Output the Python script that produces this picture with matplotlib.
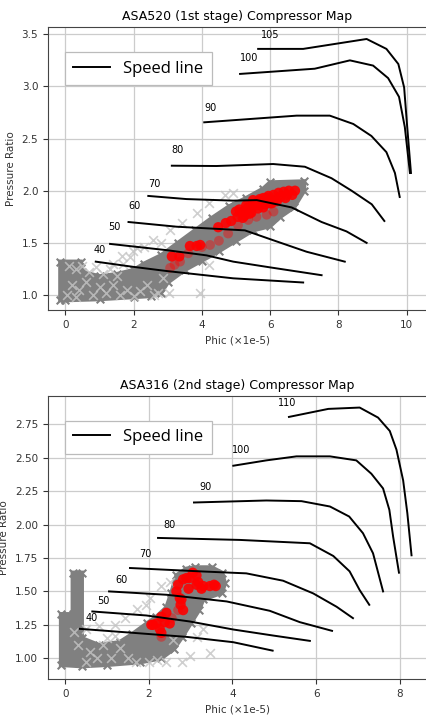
import matplotlib
matplotlib.use("Agg")
import matplotlib.pyplot as plt
import matplotlib.ticker as mticker
from matplotlib.lines import Line2D

# ---------------- ASA520 (1st stage) ----------------
top_title = "ASA520 (1st stage) Compressor Map"
top_speeds = ["105", "100", "90", "80", "70", "60", "50", "40"]
top_lines_x = [
    [5.65, 6.97, 8.83, 9.41, 9.76, 9.93, 10.02, 10.13],
    [5.12, 7.31, 8.34, 9.02, 9.46, 9.78, 9.95, 10.10],
    [4.07, 6.78, 7.75, 8.44, 8.97, 9.41, 9.66, 9.80],
    [3.12, 4.43, 6.09, 7.02, 7.80, 8.39, 8.98, 9.35],
    [2.43, 3.55, 4.92, 5.61, 6.63, 7.51, 8.24, 8.83],
    [1.85, 3.26, 5.26, 6.05, 7.07, 8.19],
    [1.31, 2.97, 4.14, 4.92, 6.00, 7.51],
    [0.89, 1.99, 2.97, 4.92, 6.97],
]
top_lines_y = [
    [3.36, 3.36, 3.455, 3.36, 3.215, 2.99, 2.61, 2.17],
    [3.12, 3.17, 3.25, 3.20, 3.08, 2.90, 2.61, 2.17],
    [2.656, 2.72, 2.72, 2.64, 2.525, 2.37, 2.17, 1.94],
    [2.24, 2.237, 2.256, 2.23, 2.12, 2.00, 1.87, 1.71],
    [1.95, 1.92, 1.905, 1.91, 1.84, 1.70, 1.61, 1.50],
    [1.70, 1.655, 1.62, 1.53, 1.415, 1.32],
    [1.49, 1.43, 1.38, 1.32, 1.265, 1.19],
    [1.32, 1.27, 1.23, 1.16, 1.12],
]
top_label_x = [5.73, 5.12, 4.07, 3.12, 2.43, 1.85, 1.26, 0.82]
top_label_y = [3.45, 3.22, 2.75, 2.34, 2.02, 1.81, 1.60, 1.38]

# dense grey operating-point cloud (outline)
top_cloud_x = [-0.15, -0.15, 0.45, 0.5, 1.0, 1.5, 2.0, 2.3, 2.8, 3.3, 3.8, 4.3, 4.8,
               5.3, 5.8, 6.0, 7.0, 7.0, 6.7, 6.3, 6.0, 5.5, 5.0, 4.5, 4.0, 3.5,
               3.0, 2.8, 2.5, 2.0, 1.0, 0.0]
top_cloud_y = [0.95, 1.32, 1.32, 1.22, 1.18, 1.20, 1.24, 1.30, 1.38, 1.50, 1.62,
               1.74, 1.85, 1.93, 2.02, 2.08, 2.09, 2.00, 1.84, 1.75, 1.66, 1.62,
               1.52, 1.42, 1.33, 1.24, 1.12, 1.02, 0.99, 0.98, 0.96, 0.95]
# sparse light operating points
top_light_x = [0.1, 0.3, 0.5, 0.7, 0.9, 1.1, 0.2, 0.4, 0.6, 0.8, 1.0, 1.2, 1.4,
               1.6, 1.8, 2.0, 1.3, 1.5, 0.05, 0.3, 2.2, 2.6, 2.7, 3.05, 3.95,
               2.87, 2.4, 1.7, 1.9, 1.41, 1.65, 1.99, 2.29, 2.58, 3.07, 3.41,
               3.85, 4.22, 4.68, 4.92, 4.22, 2.1, 2.8]
top_light_y = [1.28, 1.25, 1.28, 1.22, 1.27, 1.20, 1.10, 1.05, 1.12, 1.00, 1.08,
               1.02, 1.10, 1.00, 1.05, 0.99, 1.25, 1.18, 1.00, 0.98, 1.04, 1.00,
               1.02, 1.02, 1.02, 1.16, 1.10, 1.30, 1.36, 1.30, 1.37, 1.42, 1.46,
               1.53, 1.62, 1.69, 1.79, 1.88, 1.96, 1.98, 1.29, 1.45, 1.50]
# red highlighted points (solid strand)
top_red_x = [3.12, 3.34, 3.65, 3.85, 3.95, 4.48, 4.86, 4.7,
             5.05, 5.2, 5.35, 5.5, 5.65, 5.8, 5.95, 6.1, 6.25, 6.4, 6.55, 6.73,
             5.1, 5.3, 5.5, 5.7, 5.9, 6.1, 6.3, 6.5, 5.25, 5.45, 5.65, 5.85, 6.05,
             5.0, 5.2, 5.4, 5.6, 5.8, 6.0, 6.2, 6.45, 6.65]
top_red_y = [1.37, 1.37, 1.47, 1.47, 1.48, 1.65, 1.71, 1.69,
             1.75, 1.80, 1.84, 1.87, 1.90, 1.93, 1.95, 1.96, 1.98, 1.99, 2.00, 2.00,
             1.82, 1.86, 1.91, 1.92, 1.93, 1.91, 1.94, 1.96, 1.76, 1.79, 1.83, 1.87, 1.88,
             1.80, 1.74, 1.78, 1.86, 1.84, 1.88, 1.90, 1.93, 1.96]
# red highlighted points (faint strand)
top_faint_x = [3.07, 3.2, 3.36, 3.6, 4.0, 4.24, 4.5, 4.77, 5.06, 5.36, 5.6, 5.9, 6.1]
top_faint_y = [1.26, 1.29, 1.32, 1.40, 1.46, 1.48, 1.52, 1.59, 1.67, 1.72, 1.75, 1.77, 1.80]

# ---------------- ASA316 (2nd stage) ----------------
bot_title = "ASA316 (2nd stage) Compressor Map"
bot_speeds = ["110", "100", "90", "80", "70", "60", "50", "40"]
bot_lines_x = [
    [5.35, 6.29, 7.04, 7.48, 7.76, 7.92, 8.08, 8.18, 8.28],
    [4.02, 4.81, 5.53, 6.33, 6.96, 7.32, 7.60, 7.75, 7.84, 7.98],
    [3.08, 4.81, 5.65, 6.33, 6.79, 7.12, 7.36, 7.60],
    [2.22, 4.18, 5.85, 6.41, 6.80, 7.04, 7.27],
    [1.55, 3.22, 4.33, 5.21, 5.93, 6.49, 6.88],
    [1.05, 2.42, 3.86, 4.89, 5.61, 6.38],
    [0.65, 1.94, 2.98, 4.02, 4.97, 5.85],
    [0.35, 1.63, 2.90, 4.02, 4.96],
]
bot_lines_y = [
    [2.805, 2.865, 2.875, 2.80, 2.70, 2.56, 2.33, 2.085, 1.77],
    [2.44, 2.48, 2.51, 2.51, 2.48, 2.38, 2.27, 2.11, 1.91, 1.64],
    [2.165, 2.18, 2.175, 2.135, 2.06, 1.935, 1.785, 1.50],
    [1.90, 1.885, 1.86, 1.765, 1.65, 1.51, 1.40],
    [1.675, 1.65, 1.635, 1.58, 1.485, 1.385, 1.30],
    [1.50, 1.475, 1.425, 1.355, 1.27, 1.205],
    [1.35, 1.32, 1.275, 1.215, 1.17, 1.13],
    [1.22, 1.19, 1.16, 1.12, 1.057],
]
bot_label_x = [5.09, 3.98, 3.20, 2.34, 1.77, 1.21, 0.76, 0.49]
bot_label_y = [2.87, 2.52, 2.24, 1.96, 1.74, 1.55, 1.39, 1.26]

bot_cloud_x = [-0.1, -0.1, 0.18, 0.18, 0.40, 0.40, 0.8, 1.3, 1.6, 1.95, 2.18,
               2.42, 2.54, 2.66, 2.9, 3.1, 3.5, 3.75, 3.82, 3.75, 3.3, 3.2,
               3.0, 2.8, 2.6, 2.3, 1.8, 1.0, 0.4]
bot_cloud_y = [0.95, 1.33, 1.33, 1.64, 1.64, 1.15, 1.10, 1.12, 1.18, 1.26, 1.31,
               1.38, 1.49, 1.62, 1.67, 1.68, 1.68, 1.64, 1.56, 1.49, 1.44, 1.36,
               1.26, 1.16, 1.07, 1.00, 0.97, 0.95, 0.94]
bot_light_x = [0.5, 0.8, 1.19, 1.43, 1.71, 1.94, 2.02, 2.30, 2.50, 0.3, 0.6, 0.9,
               1.1, 1.3, 0.5, 0.75, 1.5, 1.7, 2.0, 2.42, 2.8, 2.98, 3.14, 3.46,
               2.58, 0.2, 1.0, 1.2, 2.2, 3.3]
bot_light_y = [1.22, 1.24, 1.25, 1.30, 1.37, 1.40, 1.45, 1.54, 1.57, 1.10, 1.05,
               1.10, 1.00, 1.08, 0.97, 1.00, 1.00, 0.97, 0.97, 0.975, 0.975,
               1.02, 1.16, 1.04, 1.14, 1.20, 1.15, 1.17, 0.99, 1.22]
bot_red_x = [3.14, 2.98, 2.82, 2.70, 2.66, 2.74, 2.76, 2.82, 3.14, 3.26, 3.46,
             3.56, 2.42, 2.30, 2.38, 2.18, 2.10, 2.26, 2.30, 2.50, 2.06, 2.78,
             2.90, 3.18, 3.30, 3.60, 3.05, 2.95]
bot_red_y = [1.62, 1.60, 1.59, 1.55, 1.50, 1.45, 1.40, 1.36, 1.55, 1.52, 1.54,
             1.55, 1.34, 1.31, 1.27, 1.26, 1.25, 1.22, 1.19, 1.26, 1.25, 1.44,
             1.60, 1.57, 1.54, 1.54, 1.64, 1.52]
bot_faint_x = [2.30, 2.55, 2.70]
bot_faint_y = [1.16, 1.30, 1.36]

GREY = "#808080"


def draw(ax, title, speeds, lx, ly, labx, laby, cx, cy, gx, gy, rx, ry, fx, fy):
    ax.fill(cx, cy, color=GREY, lw=3, ec=GREY, zorder=2)
    ax.scatter(cx, cy, marker="x", s=30, color=GREY, linewidths=1.5, zorder=2)
    ax.scatter(gx, gy, marker="x", s=40, color="#c4c4c4", alpha=0.8,
               linewidths=1.2, zorder=3)
    ax.scatter(fx, fy, marker="o", s=50, color="red", alpha=0.4,
               edgecolors="none", zorder=4)
    ax.scatter(rx, ry, marker="o", s=55, color="red", alpha=0.9,
               edgecolors="none", zorder=4)
    for xs, ys, sp, tx, ty in zip(lx, ly, speeds, labx, laby):
        ax.plot(xs, ys, color="black", lw=1.4, zorder=5)
        ax.text(tx, ty, sp, fontsize=7, ha="left", va="bottom", zorder=6)
    ax.set_title(title, fontsize=9, pad=5)
    ax.set_xlabel("Phic (×1e-5)", fontsize=7.5, color="#333333")
    ax.set_ylabel("Pressure Ratio", fontsize=7.5, color="#333333")
    ax.tick_params(labelsize=7.5, colors="#333333")
    ax.grid(True, color="#cccccc", lw=0.9)
    ax.set_axisbelow(True)
    for s in ax.spines.values():
        s.set_color("#444444")
    h = [Line2D([], [], color="black", lw=1.4)]
    leg = ax.legend(h, ["Speed line"], loc="upper left",
                    bbox_to_anchor=(0.023, 0.94), fancybox=False,
                    prop={"family": "Open Sans", "size": 12},
                    handlelength=2.2, borderpad=0.5, framealpha=1)
    leg.get_frame().set_edgecolor("#bbbbbb")
    leg.get_frame().set_linewidth(0.9)


fig = plt.figure(figsize=(4.27, 7.16), dpi=100)
ax1 = fig.add_axes([0.1124, 0.567, 0.8876, 0.3953])
ax2 = fig.add_axes([0.1124, 0.0517, 0.8876, 0.3957])

draw(ax1, top_title, top_speeds, top_lines_x, top_lines_y, top_label_x,
     top_label_y, top_cloud_x, top_cloud_y, top_light_x, top_light_y,
     top_red_x, top_red_y, top_faint_x, top_faint_y)
ax1.set_xlim(-0.51, 10.6)
ax1.set_ylim(0.856, 3.57)
ax1.set_xticks([0, 2, 4, 6, 8, 10])
ax1.set_yticks([1.0, 1.5, 2.0, 2.5, 3.0, 3.5])

draw(ax2, bot_title, bot_speeds, bot_lines_x, bot_lines_y, bot_label_x,
     bot_label_y, bot_cloud_x, bot_cloud_y, bot_light_x, bot_light_y,
     bot_red_x, bot_red_y, bot_faint_x, bot_faint_y)
ax2.set_xlim(-0.41, 8.65)
ax2.set_ylim(0.845, 2.964)
ax2.set_xticks([0, 2, 4, 6, 8])
ax2.set_yticks([1.0, 1.25, 1.5, 1.75, 2.0, 2.25, 2.5, 2.75])
ax2.yaxis.set_major_formatter(mticker.FormatStrFormatter("%.2f"))

fig.savefig("out.png", dpi=100)
